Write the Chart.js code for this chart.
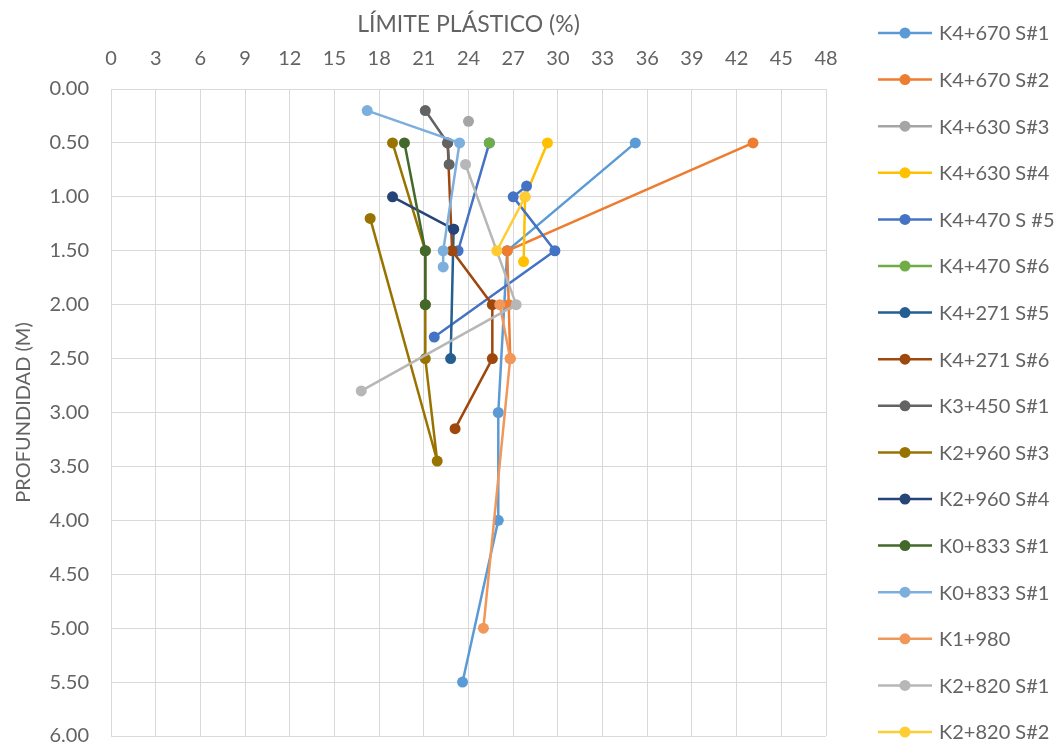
<!DOCTYPE html>
<html>
<head>
<meta charset="utf-8">
<script src="https://cdn.jsdelivr.net/npm/chart.js@4"></script>
<style>
  html, body { margin: 0; padding: 0; background: #ffffff; }
  #wrap { width: 1063px; height: 748px; }
</style>
</head>
<body>
<div id="wrap"><canvas id="chart" width="1063" height="748"></canvas></div>
<script>
// Sample labels (legend order)
const sampleNames = [
  'K4+670 S#1', 'K4+670 S#2', 'K4+630 S#3', 'K4+630 S#4',
  'K4+470 S #5', 'K4+470 S#6', 'K4+271 S#5', 'K4+271 S#6',
  'K3+450 S#1', 'K2+960 S#3', 'K2+960 S#4', 'K0+833 S#1',
  'K0+833 S#1', 'K1+980', 'K2+820 S#1', 'K2+820 S#2'
];

// Plastic limit (%) and depth (m) for each sample
const k4670s1LP = [35.2, 26.6, 26.0, 26.0, 23.6];
const k4670s1Depth = [0.5, 1.5, 3.0, 4.0, 5.5];

const k4670s2LP = [43.1, 26.6, 26.7, 26.8];
const k4670s2Depth = [0.5, 1.5, 2.0, 2.5];

const k4630s3LP = [24.0];
const k4630s3Depth = [0.3];

const k4630s4LP = [29.3, 27.8, 27.7];
const k4630s4Depth = [0.5, 1.0, 1.6];

const k4470s5LP = [25.4, 23.3, null, 27.9, 27.0, 29.8, 21.7];
const k4470s5Depth = [0.5, 1.5, null, 0.9, 1.0, 1.5, 2.3];

const k4470s6LP = [25.4];
const k4470s6Depth = [0.5];

const k4271s5LP = [23.0, 22.8];
const k4271s5Depth = [1.3, 2.5];

const k4271s6LP = [22.6, 22.9, 25.6, 25.6, 23.1];
const k4271s6Depth = [0.5, 1.5, 2.0, 2.5, 3.15];

const k3450s1LP = [21.1, 22.6, 22.7];
const k3450s1Depth = [0.2, 0.5, 0.7];

const k2960s3LP = [18.9, 21.1, 21.1, 21.1, 21.9, 17.4];
const k2960s3Depth = [0.5, 1.5, 2.0, 2.5, 3.45, 1.2];

const k2960s4LP = [18.9, 23.0];
const k2960s4Depth = [1.0, 1.3];

const k0833s1aLP = [19.7, 21.1, 21.1];
const k0833s1aDepth = [0.5, 1.5, 2.0];

const k0833s1bLP = [17.2, 23.4, 22.3, 22.3];
const k0833s1bDepth = [0.2, 0.5, 1.5, 1.65];

const k1980LP = [26.1, 26.8, 25.0];
const k1980Depth = [2.0, 2.5, 5.0];

const k2820s1LP = [23.8, 27.2, 16.8];
const k2820s1Depth = [0.7, 2.0, 2.8];

const k2820s2LP = [27.8, 25.9];
const k2820s2Depth = [1.0, 1.5];

// Axis ticks
const lpTicks = [0, 3, 6, 9, 12, 15, 18, 21, 24, 27, 30, 33, 36, 39, 42, 45, 48];
const depthTicks = [0, 0.5, 1, 1.5, 2, 2.5, 3, 3.5, 4, 4.5, 5, 5.5, 6];

// Series styling
const seriesColors = [
  '#5B9BD5', '#ED7D31', '#A5A5A5', '#FFC000', '#4472C4', '#70AD47',
  '#255E91', '#9E480E', '#636363', '#997300', '#264478', '#43682B',
  '#7CAFDD', '#F1975A', '#B7B7B7', '#FFCD33'
];

const seriesValues = [
  [k4670s1LP, k4670s1Depth], [k4670s2LP, k4670s2Depth],
  [k4630s3LP, k4630s3Depth], [k4630s4LP, k4630s4Depth],
  [k4470s5LP, k4470s5Depth], [k4470s6LP, k4470s6Depth],
  [k4271s5LP, k4271s5Depth], [k4271s6LP, k4271s6Depth],
  [k3450s1LP, k3450s1Depth], [k2960s3LP, k2960s3Depth],
  [k2960s4LP, k2960s4Depth], [k0833s1aLP, k0833s1aDepth],
  [k0833s1bLP, k0833s1bDepth], [k1980LP, k1980Depth],
  [k2820s1LP, k2820s1Depth], [k2820s2LP, k2820s2Depth]
];

const FONT = 'Lato, "Open Sans", sans-serif';
const TEXT = '#636363';
const GRID = '#d9d9d9';
const NONE = 'rgba(0,0,0,0)';

const datasets = seriesValues.map(([lp, depth], i) => ({
  label: sampleNames[i],
  data: lp.map((v, k) => ({ x: v, y: depth[k] })),
  showLine: true,
  spanGaps: false,
  borderColor: seriesColors[i],
  backgroundColor: seriesColors[i],
  pointBackgroundColor: seriesColors[i],
  pointBorderColor: seriesColors[i],
  borderWidth: 2.5,
  pointRadius: 5.5,
  pointBorderWidth: 0,
  order: seriesValues.length - i   // later series are painted on top
}));

// Legend on the right: line with a centred marker, then the sample name
const sideLegend = {
  id: 'sideLegend',
  afterDraw(chart) {
    const ctx = chart.ctx;
    const area = chart.chartArea;
    const x0 = area.right + 52;
    const x1 = x0 + 54;
    const xm = (x0 + x1) / 2;
    const top = 33;
    const step = 46.6;
    ctx.save();
    chart.data.datasets.forEach((ds, i) => {
      const y = top + i * step;
      ctx.strokeStyle = ds.borderColor;
      ctx.lineWidth = 2.5;
      ctx.beginPath();
      ctx.moveTo(x0, y);
      ctx.lineTo(x1, y);
      ctx.stroke();
      ctx.fillStyle = ds.borderColor;
      ctx.beginPath();
      ctx.arc(xm, y, 5.5, 0, Math.PI * 2);
      ctx.fill();
      ctx.fillStyle = TEXT;
      ctx.font = '20px ' + FONT;
      ctx.textBaseline = 'middle';
      ctx.textAlign = 'left';
      ctx.fillText(ds.label, x1 + 7, y + 1);
    });
    ctx.restore();
  }
};

new Chart(document.getElementById('chart'), {
  type: 'scatter',
  data: { datasets },
  plugins: [sideLegend],
  options: {
    responsive: false,
    animation: false,
    devicePixelRatio: 1,
    layout: { padding: { left: 0, right: 237, top: 0, bottom: 11 } },
    plugins: {
      legend: { display: false },
      tooltip: { enabled: false }
    },
    scales: {
      x: {
        type: 'linear',
        position: 'top',
        min: lpTicks[0],
        max: lpTicks[lpTicks.length - 1],
        afterBuildTicks(scale) { scale.ticks = lpTicks.map(v => ({ value: v })); },
        afterFit(scale) { scale.height = 89; },
        ticks: { color: TEXT, font: { family: FONT, size: 20 }, padding: 0, maxRotation: 0 },
        grid: { color: GRID, lineWidth: 1, drawTicks: true, tickLength: 18, tickColor: NONE },
        border: { color: GRID },
        title: {
          display: true,
          text: 'LÍMITE PLÁSTICO (%)',
          color: TEXT,
          font: { family: FONT, size: 23 },
          padding: { top: 11, bottom: 0 }
        }
      },
      y: {
        type: 'linear',
        reverse: true,
        min: depthTicks[0],
        max: depthTicks[depthTicks.length - 1],
        afterBuildTicks(scale) { scale.ticks = depthTicks.map(v => ({ value: v })); },
        afterFit(scale) { scale.width = 111; },
        ticks: {
          color: TEXT,
          font: { family: FONT, size: 20 },
          padding: 0,
          callback: v => Number(v).toFixed(2)
        },
        grid: { color: GRID, lineWidth: 1, drawTicks: true, tickLength: 22, tickColor: NONE },
        border: { color: GRID },
        title: {
          display: true,
          text: 'PROFUNDIDAD (M)',
          color: TEXT,
          font: { family: FONT, size: 20 },
          padding: { top: 12, bottom: 0 }
        }
      }
    }
  }
});
</script>
</body>
</html>
